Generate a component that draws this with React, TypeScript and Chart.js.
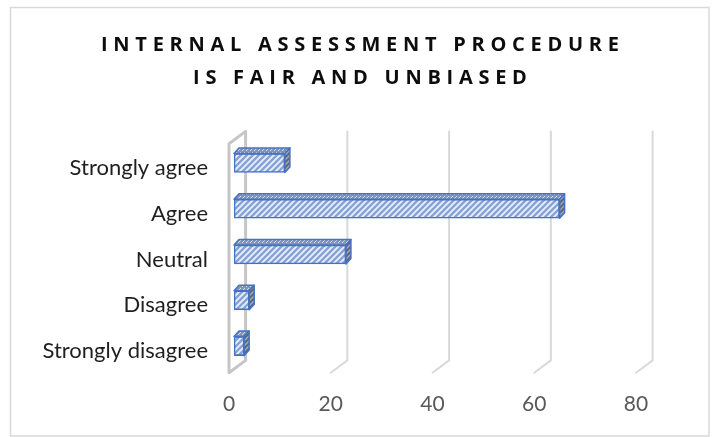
import React, { useEffect, useRef } from 'react';
import { Chart, registerables } from 'chart.js';

Chart.register(...registerables);

// ---- data ----
const TITLE_LINES = ['INTERNAL ASSESSMENT PROCEDURE', 'IS FAIR AND UNBIASED'];
const CATEGORIES = ['Strongly agree', 'Agree', 'Neutral', 'Disagree', 'Strongly disagree'];
const VALUES = [10, 64, 22, 3, 2];
const X_MIN = 0;
const X_MAX = 80;
const X_STEP = 20;

// ---- style ----
const W = 715;
const H = 437;
const FONT = 'Lato, "Open Sans", "Noto Sans", sans-serif';
const TITLE_FONT = '"Open Sans", Lato, sans-serif';
const BACK = { dx: 11.6, dy: -8.6 };
const FRONT = { dx: -5, dy: 3.7 };
const BAR_D = { dx: 5, dy: -5.5 };
const BAR_EDGE = '#4472c4';

function makeStripe(bg: string, fg: string, lw: number, size: number) {
  const c = document.createElement('canvas');
  c.width = size;
  c.height = size;
  const g = c.getContext('2d')!;
  g.fillStyle = bg;
  g.fillRect(0, 0, size, size);
  g.strokeStyle = fg;
  g.lineWidth = lw;
  g.beginPath();
  for (const o of [-size, 0, size]) {
    g.moveTo(o - 1, size + 1);
    g.lineTo(o + size + 1, -1);
  }
  g.stroke();
  return g.createPattern(c, 'repeat')!;
}

function makeDots(bg: string, fg: string) {
  const c = document.createElement('canvas');
  c.width = 4;
  c.height = 4;
  const g = c.getContext('2d')!;
  g.fillStyle = bg;
  g.fillRect(0, 0, 4, 4);
  g.fillStyle = fg;
  g.fillRect(0, 0, 1, 1);
  g.fillRect(2, 2, 1, 1);
  g.fillRect(3, 1, 1, 1);
  return g.createPattern(c, 'repeat')!;
}

export default function App() {
  const ref = useRef<HTMLCanvasElement | null>(null);

  useEffect(() => {
    if (!ref.current) return;
    const frontPat = makeStripe('#eaf0fa', '#86a3d8', 2.4, 6);
    const topPat = makeDots('#8594b0', '#d5dcea');
    const sidePat = makeStripe('#5f6674', '#a3aab8', 1.5, 5);

    const frame3d = {
      id: 'frame3d',
      beforeDraw(chart: any) {
        const ctx = chart.ctx;
        ctx.save();
        ctx.fillStyle = '#ffffff';
        ctx.fillRect(0, 0, W, H);
        ctx.strokeStyle = '#d9d9d9';
        ctx.lineWidth = 1.5;
        ctx.strokeRect(10.5, 7.5, 698.5, 428.5);
        // title
        ctx.font = `bold 20px ${TITLE_FONT}`;
        ctx.fillStyle = '#0d0d0d';
        ctx.textAlign = 'left';
        ctx.textBaseline = 'alphabetic';
        (ctx as any).letterSpacing = '0px';
        const target = 518;
        const w0 = ctx.measureText(TITLE_LINES[0]).width;
        const ls = (target - w0) / (TITLE_LINES[0].length - 1);
        const baselines = [50.5, 83.5];
        TITLE_LINES.forEach((line, i) => {
          (ctx as any).letterSpacing = '0px';
          const w = ctx.measureText(line).width + ls * (line.length - 1);
          (ctx as any).letterSpacing = `${ls}px`;
          ctx.fillText(line, 360 - w / 2, baselines[i]);
        });
        (ctx as any).letterSpacing = '0px';
        ctx.restore();
      },
      beforeDatasetsDraw(chart: any) {
        const ctx = chart.ctx;
        const xs = chart.scales.x;
        const { top, bottom } = chart.chartArea;
        ctx.save();
        ctx.lineJoin = 'round';
        ctx.lineCap = 'round';
        xs.ticks.forEach((t: any) => {
          const x = xs.getPixelForValue(t.value);
          if (t.value === X_MIN) {
            ctx.strokeStyle = '#c6c6c6';
            ctx.lineWidth = 3;
            ctx.beginPath();
            ctx.moveTo(x + FRONT.dx, top + FRONT.dy);
            ctx.lineTo(x + BACK.dx, top + BACK.dy);
            ctx.lineTo(x + BACK.dx, bottom + BACK.dy);
            ctx.lineTo(x + FRONT.dx, bottom + FRONT.dy);
            ctx.closePath();
            ctx.stroke();
          } else {
            ctx.strokeStyle = '#d9d9d9';
            ctx.lineWidth = 2;
            ctx.beginPath();
            ctx.moveTo(x + BACK.dx, top + BACK.dy);
            ctx.lineTo(x + BACK.dx, bottom + BACK.dy);
            ctx.lineTo(x + FRONT.dx, bottom + FRONT.dy);
            ctx.stroke();
          }
        });
        ctx.restore();
      },
      afterDatasetsDraw(chart: any) {
        const ctx = chart.ctx;
        const meta = chart.getDatasetMeta(0);
        ctx.save();
        ctx.strokeStyle = BAR_EDGE;
        ctx.lineWidth = 1.5;
        ctx.lineJoin = 'round';
        meta.data.forEach((el: any) => {
          const p = el.getProps(['x', 'y', 'base', 'height'], true);
          const l = Math.min(p.base, p.x);
          const r = Math.max(p.base, p.x);
          const t = p.y - p.height / 2;
          const b = p.y + p.height / 2;
          // top face
          ctx.beginPath();
          ctx.moveTo(l, t);
          ctx.lineTo(l + BAR_D.dx, t + BAR_D.dy);
          ctx.lineTo(r + BAR_D.dx, t + BAR_D.dy);
          ctx.lineTo(r, t);
          ctx.closePath();
          ctx.fillStyle = topPat;
          ctx.fill();
          ctx.stroke();
          // right face
          ctx.beginPath();
          ctx.moveTo(r, t);
          ctx.lineTo(r + BAR_D.dx, t + BAR_D.dy);
          ctx.lineTo(r + BAR_D.dx, b + BAR_D.dy);
          ctx.lineTo(r, b);
          ctx.closePath();
          ctx.fillStyle = sidePat;
          ctx.fill();
          ctx.stroke();
        });
        ctx.restore();
      },
    };

    const chart = new Chart(ref.current, {
      type: 'bar',
      data: {
        labels: CATEGORIES,
        datasets: [
          {
            data: VALUES,
            backgroundColor: frontPat as any,
            borderColor: BAR_EDGE,
            borderWidth: 1.6,
            borderSkipped: false,
            barThickness: 19,
          },
        ],
      },
      options: {
        indexAxis: 'y',
        animation: false,
        responsive: false,
        events: [],
        layout: { padding: { top: 140, right: 74, bottom: 0, left: 0 } },
        plugins: {
          legend: { display: false },
          title: { display: false },
          tooltip: { enabled: false },
        },
        scales: {
          x: {
            type: 'linear',
            min: X_MIN,
            max: X_MAX,
            grid: { display: false, drawTicks: false },
            border: { display: false },
            ticks: {
              stepSize: X_STEP,
              padding: 23,
              labelOffset: FRONT.dx,
              color: '#595959',
              font: { family: FONT, size: 21 },
            },
            afterFit: (s: any) => {
              s.height = 68;
            },
          },
          y: {
            type: 'category',
            grid: { display: false, drawTicks: false },
            border: { display: false },
            ticks: {
              padding: 26,
              labelOffset: 5,
              color: '#1f1f1f',
              font: { family: FONT, size: 22 },
            },
            afterFit: (s: any) => {
              s.width = 234;
            },
          },
        },
      },
      plugins: [frame3d],
    });
    return () => chart.destroy();
  }, []);

  return (
    <div style={{ position: 'fixed', left: 0, top: 0, width: W, height: H, background: '#fff' }}>
      <canvas ref={ref} width={W} height={H} style={{ display: 'block', width: W, height: H }} />
    </div>
  );
}
